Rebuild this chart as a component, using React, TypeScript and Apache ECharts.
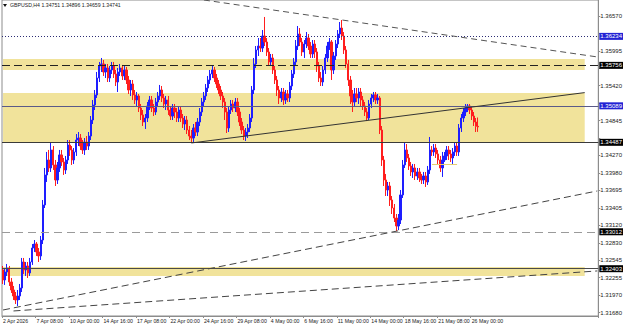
import React, { useEffect, useRef } from 'react';
import * as echarts from 'echarts';

// Time axis labels (one every 16 H4 bars)
const timeLabels = [
  '2 Apr 2026', '7 Apr 08:00', '10 Apr 00:00', '14 Apr 16:00', '17 Apr 08:00',
  '22 Apr 00:00', '24 Apr 16:00', '29 Apr 08:00', '4 May 00:00', '6 May 16:00',
  '11 May 00:00', '14 May 00:00', '18 May 16:00', '21 May 08:00', '26 May 00:00',
];
const LABEL_EVERY = 16;
const BAR_SLOTS = 285;

// OHLC in points (1 point = 0.00001)
const opens = [
  132382,132217,132349,132415,132184,132052,131953,131887,131953,132085,
  132514,132382,132448,132333,132514,132744,132810,132679,132613,132876,
  133454,133949,134196,134064,134361,134114,133866,134064,134279,134163,
  134031,134196,134443,134361,134196,134328,134525,134558,134426,134361,
  134492,134426,134591,134855,135103,135268,135548,135746,135779,135647,
  135713,135548,135680,135746,135614,135482,135647,135713,135581,135680,
  135515,135350,135449,135268,135185,135251,135053,134938,134822,134888,
  135086,135185,135053,134987,135152,135251,135350,135218,135119,135185,
  135020,134921,135053,134987,134888,135020,134888,134789,134855,134690,
  134591,134558,134723,134657,134822,134987,135152,135251,135383,135515,
  135614,135680,135548,135449,135350,135251,135152,134987,134723,135020,
  135119,135053,135152,134987,134822,134690,134591,134657,134723,134888,
  135350,135779,136010,136075,136042,136240,136141,135977,135812,135878,
  135680,135515,135350,135218,135317,135185,135284,135218,135416,135614,
  135812,136075,136273,136141,135977,136108,136207,136075,135944,136108,
  135977,135746,135548,135482,135680,135878,136075,136141,135680,135911,
  136108,136273,136372,136240,136010,135779,135515,135251,135152,135284,
  135218,135317,135185,135086,134987,134888,135119,135218,135268,135185,
  135218,134690,134196,133866,133701,133767,133536,133404,133239,133107,
  133206,133619,134114,134361,134229,134097,133998,134064,133932,133998,
  133899,133866,133932,133833,134031,134361,134328,134393,134295,134196,
  134064,134196,134262,134361,134295,134229,134328,134426,134328,134723,
  134888,134987,135053,135086,135020,134921,134822,134751,
];
const highs = [
  132448,132415,132481,132448,132250,132118,132019,132052,132151,132580,
  132580,132514,132514,132580,132810,132876,132843,132744,132942,133536,
  134064,134328,134361,134476,134426,134196,134163,134361,134361,134229,
  134262,134525,134525,134426,134393,134624,134657,134624,134525,134558,
  134591,134657,134921,135185,135350,135647,135812,135878,135845,135779,
  135779,135746,135812,135812,135680,135713,135779,135763,135746,135730,
  135581,135515,135515,135350,135317,135284,135119,135020,134954,135152,
  135251,135251,135119,135218,135317,135433,135416,135284,135251,135251,
  135086,135119,135119,135053,135086,135086,134954,134921,134921,134756,
  134690,134789,134822,134888,135053,135218,135317,135449,135581,135680,
  135746,135730,135614,135515,135416,135317,135218,135053,135086,135185,
  135185,135218,135218,135053,134888,134756,134723,134789,134954,135416,
  135878,136075,136207,136207,136339,136554,136207,136042,135944,135944,
  135746,135581,135416,135383,135383,135350,135350,135482,135680,135878,
  136174,136405,136372,136207,136174,136306,136273,136141,136174,136174,
  136042,135812,135647,135746,135944,136141,136207,136174,135977,136174,
  136339,136471,136504,136306,136075,135845,135581,135350,135383,135383,
  135383,135383,135251,135152,135053,135185,135284,135317,135317,135284,
  135251,134756,134262,133965,133833,133833,133602,133470,133305,133305,
  133701,134196,134492,134459,134295,134163,134130,134130,134064,134064,
  133965,133998,133998,134097,134575,134426,134459,134459,134361,134262,
  134328,134328,134426,134426,134361,134393,134492,134492,134789,134954,
  135053,135119,135119,135119,135086,134987,134888,134896,
];
const lows = [
  132151,132135,132283,132118,132003,131887,131821,131788,131887,132019,
  132316,132283,132250,132283,132465,132679,132613,132514,132547,132810,
  133404,133833,133998,133998,134031,133767,133800,133998,134097,133949,
  133965,134130,134262,134114,134130,134262,134426,134361,134295,134279,
  134361,134361,134525,134789,135020,135218,135482,135647,135581,135548,
  135482,135482,135614,135548,135416,135317,135581,135515,135515,135449,
  135284,135251,135185,135119,135086,134987,134855,134756,134707,134822,
  135020,134987,134921,134938,135086,135185,135152,135053,135020,134938,
  134855,134855,134888,134822,134822,134822,134723,134690,134624,134525,
  134476,134492,134591,134591,134756,134921,135086,135185,135317,135449,
  135548,135482,135383,135284,135185,135053,134855,134641,134657,134954,
  134987,134987,134921,134756,134624,134525,134509,134558,134657,134822,
  135284,135713,135911,135977,135977,136075,135911,135746,135746,135614,
  135449,135251,135119,135152,135103,135119,135152,135152,135350,135548,
  135746,136010,136075,135911,135878,136042,136010,135878,135878,135878,
  135647,135482,135416,135416,135614,135812,136010,135515,135614,135845,
  136042,136207,136174,135944,135713,135416,135119,134987,135086,135152,
  135119,135086,135020,134921,134838,134855,135053,135152,135119,135119,
  134624,134097,133767,133602,133602,133437,133305,133173,133025,133041,
  133140,133569,134064,134163,134031,133932,133899,133866,133866,133833,
  133800,133800,133751,133784,133965,134262,134262,134229,134130,133998,
  133916,134163,134196,134196,134163,134130,134262,134262,134262,134657,
  134822,134921,134987,134954,134855,134756,134657,134659,
];
const closes = [
  132217,132349,132415,132184,132052,131953,131887,131953,132085,132514,
  132382,132448,132333,132514,132744,132810,132679,132613,132876,133454,
  133949,134196,134064,134361,134114,133866,134064,134279,134163,134031,
  134196,134443,134361,134196,134328,134525,134558,134426,134361,134492,
  134426,134591,134855,135103,135268,135548,135746,135779,135647,135713,
  135548,135680,135746,135614,135482,135647,135713,135581,135680,135515,
  135350,135449,135268,135185,135251,135053,134938,134822,134888,135086,
  135185,135053,134987,135152,135251,135350,135218,135119,135185,135020,
  134921,135053,134987,134888,135020,134888,134789,134855,134690,134591,
  134558,134723,134657,134822,134987,135152,135251,135383,135515,135614,
  135680,135548,135449,135350,135251,135152,134987,134723,135020,135119,
  135053,135152,134987,134822,134690,134591,134657,134723,134888,135350,
  135779,136010,136075,136042,136240,136141,135977,135812,135878,135680,
  135515,135350,135218,135317,135185,135284,135218,135416,135614,135812,
  136075,136273,136141,135977,136108,136207,136075,135944,136108,135977,
  135746,135548,135482,135680,135878,136075,136141,135680,135911,136108,
  136273,136372,136240,136010,135779,135515,135251,135152,135284,135218,
  135317,135185,135086,134987,134888,135119,135218,135268,135185,135218,
  134690,134196,133866,133701,133767,133536,133404,133239,133107,133206,
  133619,134114,134361,134229,134097,133998,134064,133932,133998,133899,
  133866,133932,133833,134031,134361,134328,134393,134295,134196,134064,
  134196,134262,134361,134295,134229,134328,134426,134328,134723,134888,
  134987,135053,135086,135020,134921,134822,134751,134741,
];
const POINT = 100000;

// Price axis
const yMin = 1.31623;
const yMax = 1.36834;
const tickValues = [
  1.3168, 1.3197, 1.32255, 1.32545, 1.3283, 1.3312, 1.33405, 1.33695, 1.3398,
  1.3427, 1.34558, 1.34845, 1.35133, 1.3542, 1.35708, 1.35995, 1.36283, 1.3657,
];
const labelValues = [
  1.3168, 1.3197, 1.32255, 1.32545, 1.3283, 1.3312, 1.33405, 1.33695, 1.3398,
  1.3427, 1.34845, 1.3542, 1.35995, 1.3657,
];

// Horizontal levels
const levelValues = [1.36234, 1.35756, 1.35089, 1.34487, 1.33012, 1.32403];
const levelColors = ['#2c2c74', '#222222', '#5a5a88', '#3a3a3a', '#9a9a9a', '#4a4a4a'];
const levelTypes: any[] = [[1, 2], [8, 4], 'solid', 'solid', [8, 5], 'solid'];
const levelBoxes = ['#2222d4', '#000000', '#2222d4', '#000000', '#000000', '#000000'];
const bidPrice = 1.34741;

// Shaded zones [top, bottom] and right end bar slot
const zoneTops = [1.35862, 1.35301, 1.32431];
const zoneBottoms = [1.3568, 1.34492, 1.32283];
const ZONE_END = 278;

// Trend lines: [slotFrom, priceFrom, slotTo, priceTo]
const trendLines = [
  [96, 1.36834, 284, 1.35895],
  [90, 1.34476, 278, 1.35307],
  [0, 1.31722, 284, 1.33685],
  [5, 1.31706, 284, 1.32366],
  [205, 1.3413, 217, 1.3413],
];
const trendColors = ['#555555', '#333333', '#444444', '#444444', '#e6cd72'];
const trendTypes: any[] = [[6, 4], 'solid', [7, 4], [7, 4], 'solid'];

const FONT = 'Liberation Sans';

export default function App() {
  const ref = useRef<HTMLDivElement>(null);
  useEffect(() => {
    if (!ref.current) return;
    const chart = echarts.init(ref.current, null, { renderer: 'svg' });
    const categories = Array.from({ length: BAR_SLOTS }, (_, i) =>
      i % LABEL_EVERY === 0 && i / LABEL_EVERY < timeLabels.length ? timeLabels[i / LABEL_EVERY] : 'b' + i
    );
    const showLabel = (i: number) => i % LABEL_EVERY === 0 && i / LABEL_EVERY < timeLabels.length;
    const candles = opens.map((o, i) => [o / POINT, closes[i] / POINT, lows[i] / POINT, highs[i] / POINT]);

    const boxLabel = (text: string, bg: string) => ({
      show: true,
      position: 'end',
      distance: 1,
      formatter: text,
      color: '#ffffff',
      backgroundColor: bg,
      padding: [1, 1, 0, 1],
      fontSize: 6,
      fontFamily: FONT,
    });
    const levelLines = levelValues.map((v, i) => ({
      yAxis: v,
      lineStyle: { color: levelColors[i], type: levelTypes[i], width: 1 },
      label: boxLabel(v.toFixed(5), levelBoxes[i]),
    }));
    const bidLine = {
      yAxis: bidPrice,
      lineStyle: { opacity: 0, width: 0 },
      label: boxLabel(bidPrice.toFixed(5), '#000000'),
    };
    const trends = trendLines.map((t, i) => [
      { coord: [t[0], t[1]], lineStyle: { color: trendColors[i], type: trendTypes[i], width: 1 }, label: { show: false } },
      { coord: [t[2], t[3]] },
    ]);

    chart.setOption({
      animation: false,
      backgroundColor: '#ffffff',
      textStyle: { fontFamily: FONT },
      grid: { left: 2, right: 24, top: 0, bottom: 9, show: true, borderColor: '#8c8c8c', borderWidth: 1 },
      xAxis: {
        type: 'category',
        data: categories,
        boundaryGap: true,
        axisLine: { show: true, lineStyle: { color: '#8c8c8c' } },
        axisTick: { show: true, interval: (i: number) => showLabel(i), length: 2, lineStyle: { color: '#8c8c8c' } },
        axisLabel: {
          interval: (i: number) => showLabel(i),
          formatter: (v: string, i: number) => (showLabel(i) ? v : ''),
          fontSize: 5.2,
          color: '#222',
          align: 'left',
          margin: 2,
          fontFamily: FONT,
        },
        splitLine: { show: false },
      },
      yAxis: {
        type: 'value',
        position: 'right',
        min: yMin,
        max: yMax,
        scale: true,
        axisLine: { show: true, lineStyle: { color: '#8c8c8c' } },
        axisTick: { show: true, length: 2, customValues: tickValues, lineStyle: { color: '#8c8c8c' } },
        axisLabel: {
          customValues: labelValues,
          formatter: (v: number) => v.toFixed(5),
          fontSize: 6,
          color: '#222',
          margin: 2,
          fontFamily: FONT,
        },
        splitLine: { show: false },
      },
      graphic: [
        { type: 'polygon', shape: { points: [[3, 4], [7, 4], [5, 7]] }, style: { fill: '#111' } },
        {
          type: 'text',
          left: 10,
          top: 2,
          style: { text: 'GBPUSD,H4 1.34751 1.34896 1.34659 1.34741', fontSize: 5.2, fill: '#222', fontFamily: FONT },
        },
      ],
      series: [
        {
          type: 'candlestick',
          data: candles,
          barWidth: 1.8,
          z: 3,
          itemStyle: {
            color: '#1e1eff',
            color0: '#ff1e1e',
            borderColor: '#1e1eff',
            borderColor0: '#ff1e1e',
            borderWidth: 1,
          },
          markArea: {
            silent: true,
            itemStyle: { color: '#f1e39b' },
            data: zoneTops.map((t, i) => [
              { xAxis: 0, yAxis: t },
              { xAxis: ZONE_END, yAxis: zoneBottoms[i] },
            ]),
          },
          markLine: {
            silent: true,
            precision: 5,
            symbol: ['none', 'none'],
            label: { show: false },
            data: [...levelLines, bidLine, ...trends],
          },
        },
      ],
    });
    return () => chart.dispose();
  }, []);
  return (
    <div
      ref={ref}
      style={{ position: 'fixed', left: 0, top: 0, width: 625, height: 325, background: '#fff' }}
    />
  );
}
